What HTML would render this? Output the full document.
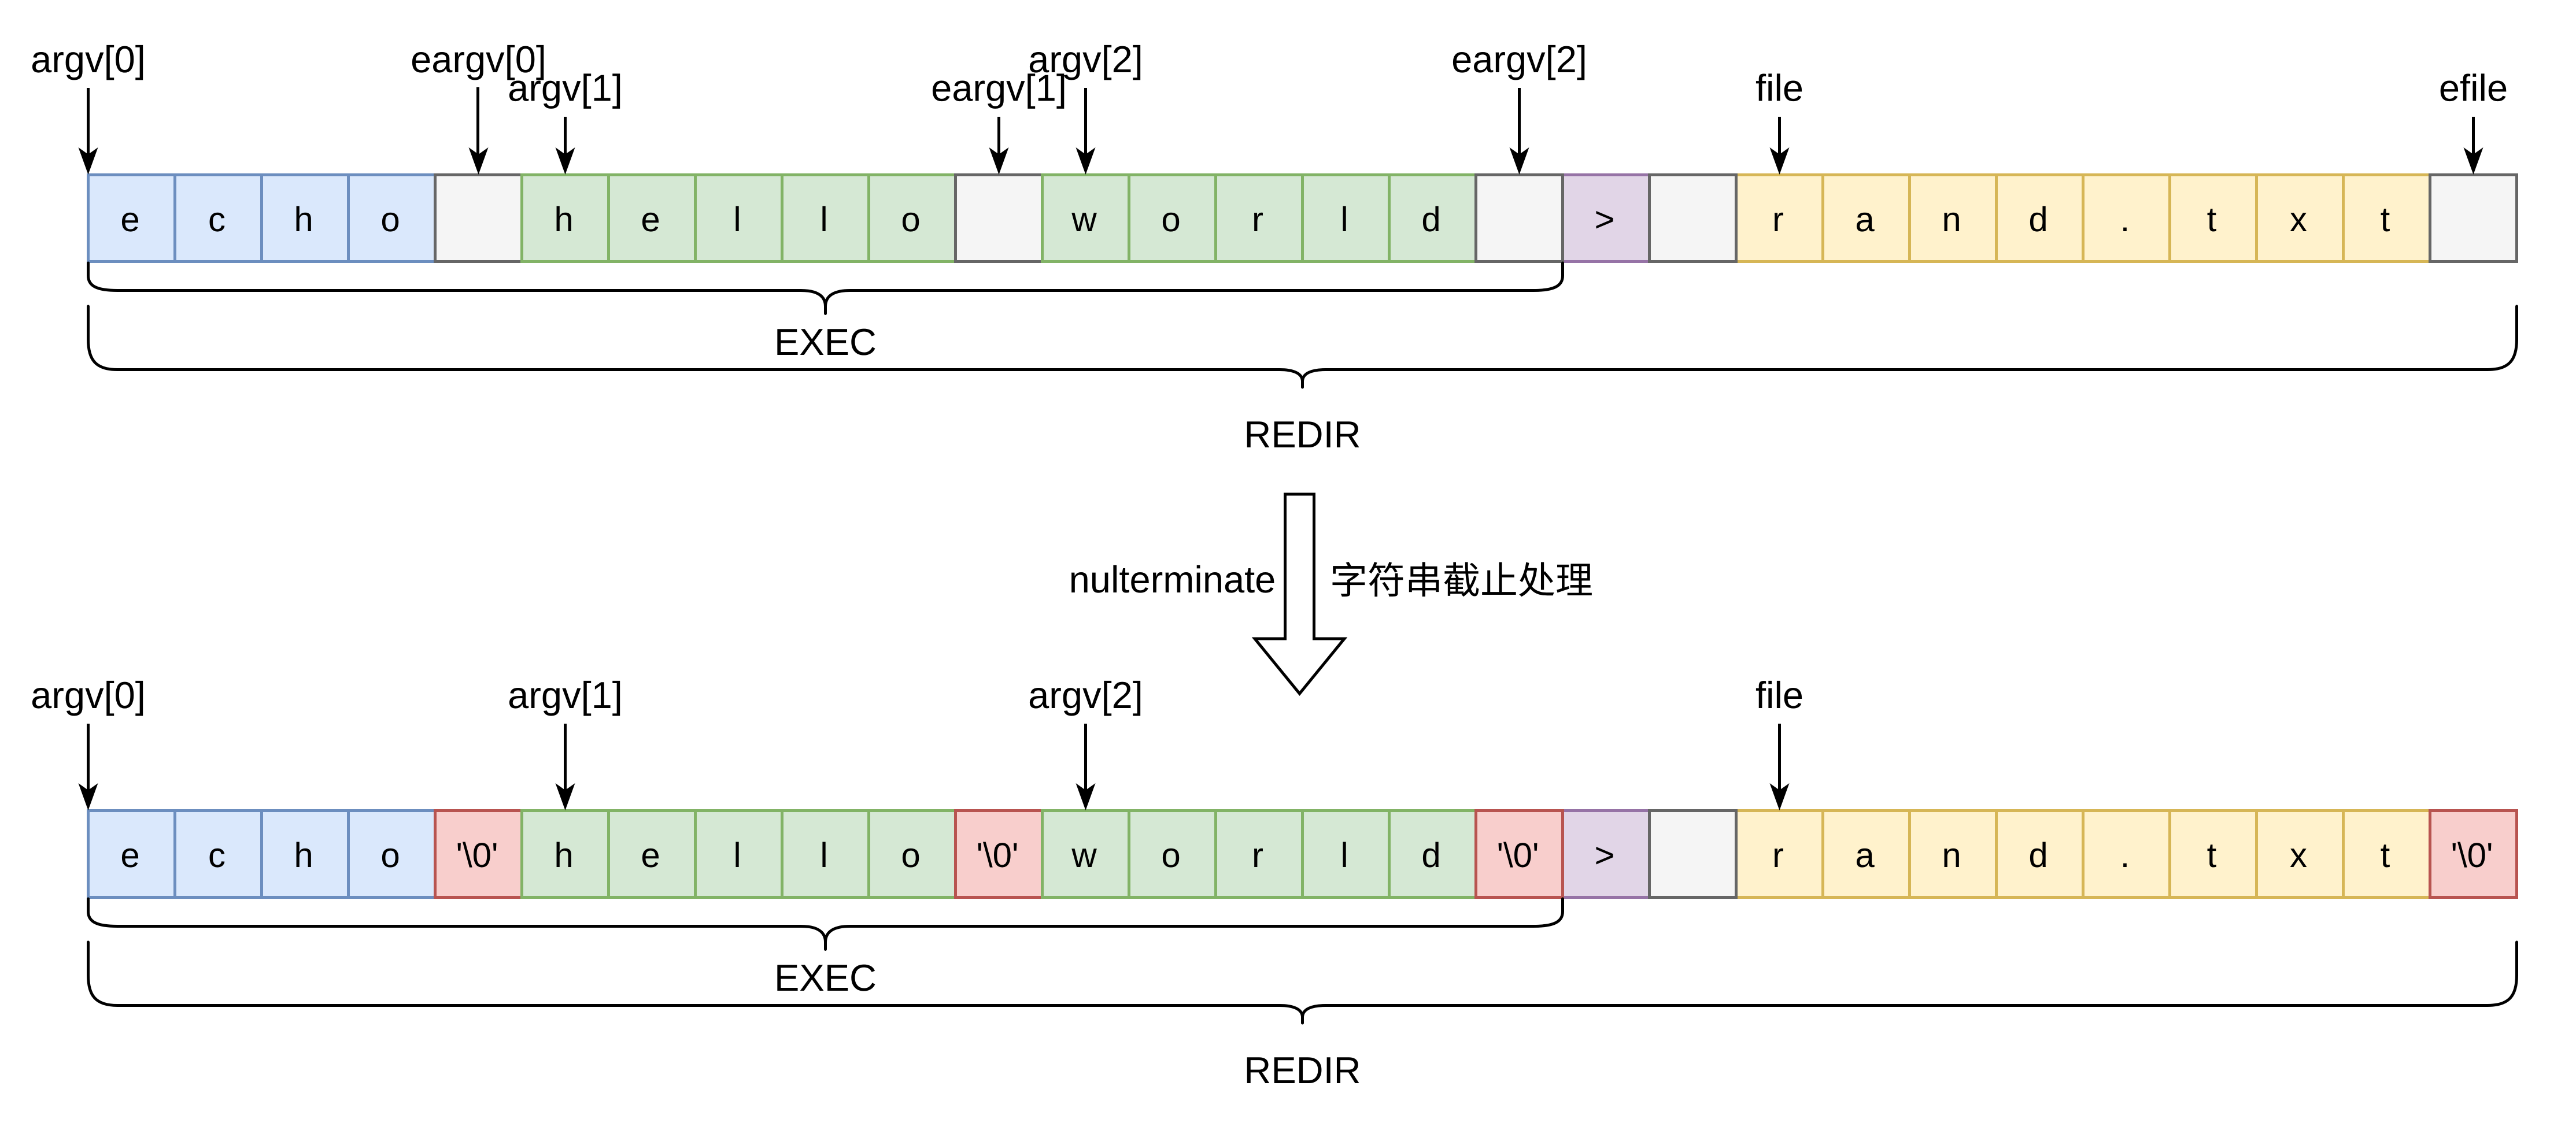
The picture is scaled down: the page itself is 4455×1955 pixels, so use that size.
<!DOCTYPE html>
<html>
<head>
<meta charset="utf-8">
<style>
html,body{margin:0;padding:0;background:#fff;width:4455px;height:1955px;overflow:hidden}
svg{display:block}
text{font-family:"Liberation Sans","Noto Sans CJK SC",sans-serif;fill:#000;text-anchor:middle;text-rendering:geometricPrecision}
.c{font-size:60px}
.l{font-size:65px}
rect{stroke-width:5}
.b{fill:#dae8fc;stroke:#6c8ebf}
.g{fill:#d5e8d4;stroke:#82b366}
.e{fill:#f5f5f5;stroke:#666666}
.p{fill:#e1d5e7;stroke:#9673a6}
.y{fill:#fff2cc;stroke:#d6b656}
.r{fill:#f8cecc;stroke:#b85450}
.ln{fill:none;stroke:#000;stroke-width:5}
.br{fill:none;stroke:#000;stroke-width:5;stroke-linecap:round}
</style>
</head>
<body>
<svg xmlns="http://www.w3.org/2000/svg" width="4455" height="1955" viewBox="0 0 4455 1955">
<rect x="0" y="0" width="4455" height="1955" fill="#fff" style="stroke:none"/>

<!-- Row 1 cells -->
<g>
<rect class="p" x="2702.5" y="302.5" width="150" height="150"/>
<rect class="y" x="3002.5" y="302.5" width="150" height="150"/>
<rect class="y" x="3152.5" y="302.5" width="150" height="150"/>
<rect class="y" x="3302.5" y="302.5" width="150" height="150"/>
<rect class="y" x="3452.5" y="302.5" width="150" height="150"/>
<rect class="y" x="3602.5" y="302.5" width="150" height="150"/>
<rect class="y" x="3752.5" y="302.5" width="150" height="150"/>
<rect class="y" x="3902.5" y="302.5" width="150" height="150"/>
<rect class="y" x="4052.5" y="302.5" width="150" height="150"/>
<rect class="b" x="152.5" y="302.5" width="150" height="150"/>
<rect class="b" x="302.5" y="302.5" width="150" height="150"/>
<rect class="b" x="452.5" y="302.5" width="150" height="150"/>
<rect class="b" x="602.5" y="302.5" width="150" height="150"/>
<rect class="e" x="752.5" y="302.5" width="150" height="150"/>
<rect class="g" x="902.5" y="302.5" width="150" height="150"/>
<rect class="g" x="1052.5" y="302.5" width="150" height="150"/>
<rect class="g" x="1202.5" y="302.5" width="150" height="150"/>
<rect class="g" x="1352.5" y="302.5" width="150" height="150"/>
<rect class="g" x="1502.5" y="302.5" width="150" height="150"/>
<rect class="e" x="1652.5" y="302.5" width="150" height="150"/>
<rect class="g" x="1802.5" y="302.5" width="150" height="150"/>
<rect class="g" x="1952.5" y="302.5" width="150" height="150"/>
<rect class="g" x="2102.5" y="302.5" width="150" height="150"/>
<rect class="g" x="2252.5" y="302.5" width="150" height="150"/>
<rect class="g" x="2402.5" y="302.5" width="150" height="150"/>
<rect class="e" x="2552.5" y="302.5" width="150" height="150"/>
<rect class="e" x="2852.5" y="302.5" width="150" height="150"/>
<rect class="e" x="4202.5" y="302.5" width="150" height="150"/>
</g>
<g class="c">
<text x="225" y="400">e</text><text x="375" y="400">c</text><text x="525" y="400">h</text><text x="675" y="400">o</text>
<text x="975" y="400">h</text><text x="1125" y="400">e</text><text x="1275" y="400">l</text><text x="1425" y="400">l</text><text x="1575" y="400">o</text>
<text x="1875" y="400">w</text><text x="2025" y="400">o</text><text x="2175" y="400">r</text><text x="2325" y="400">l</text><text x="2475" y="400">d</text>
<text x="2775" y="400">&gt;</text>
<text x="3075" y="400">r</text><text x="3225" y="400">a</text><text x="3375" y="400">n</text><text x="3525" y="400">d</text><text x="3675" y="400">.</text><text x="3825" y="400">t</text><text x="3975" y="400">x</text><text x="4125" y="400">t</text>
</g>

<!-- Row 1 arrows -->
<g>
<path class="ln" d="M152.5 152V270"/><path d="M152.5 302L135.5 255L152.5 267L169.5 255Z"/>
<path class="ln" d="M826.5 151V270"/><path d="M827.5 302L810.5 255L827.5 267L844.5 255Z"/>
<path class="ln" d="M977.5 202V270"/><path d="M977.5 302L960.5 255L977.5 267L994.5 255Z"/>
<path class="ln" d="M1727.5 202V270"/><path d="M1727.5 302L1710.5 255L1727.5 267L1744.5 255Z"/>
<path class="ln" d="M1877.5 152V270"/><path d="M1877.5 302L1860.5 255L1877.5 267L1894.5 255Z"/>
<path class="ln" d="M2627.5 152V270"/><path d="M2627.5 302L2610.5 255L2627.5 267L2644.5 255Z"/>
<path class="ln" d="M3077.5 202V270"/><path d="M3077.5 302L3060.5 255L3077.5 267L3094.5 255Z"/>
<path class="ln" d="M4277.5 202V270"/><path d="M4277.5 302L4260.5 255L4277.5 267L4294.5 255Z"/>
</g>
<g class="l">
<text x="152.5" y="125">argv[0]</text>
<text x="827.5" y="125">eargv[0]</text>
<text x="977.5" y="174.5">argv[1]</text>
<text x="1727.5" y="174.5">eargv[1]</text>
<text x="1877.5" y="125">argv[2]</text>
<text x="2627.5" y="125">eargv[2]</text>
<text x="3077.5" y="174.5">file</text>
<text x="4277.5" y="174.5">efile</text>
<text x="1427.5" y="614">EXEC</text>
<text x="2252.5" y="774">REDIR</text>
</g>

<!-- Row 1 braces -->
<path class="br" d="M152.5 455V477C152.5 495 168 502.5 203 502.5H1385C1410 502.5 1427.5 510 1427.5 530V542.5M1427.5 530C1427.5 510 1445 502.5 1470 502.5H2652C2687 502.5 2702.5 495 2702.5 477V455"/>
<path class="br" d="M152.5 530V587C152.5 622 165 639.5 203 639.5H2213C2235 639.5 2252.5 645 2252.5 660V670M2252.5 660C2252.5 645 2270 639.5 2292 639.5H4302C4340 639.5 4352.5 622 4352.5 587V530"/>

<!-- Block arrow -->
<path d="M2222.5 855H2272.5V1105H2325L2247.5 1200L2170 1105H2222.5Z" fill="#fff" stroke="#000" stroke-width="5"/>
<text class="l" x="2027.5" y="1025">nulterminate</text>
<text class="l" x="2527.5" y="1027">字符串截止处理</text>

<!-- Row 2 cells -->
<g>
<rect class="p" x="2702.5" y="1402.5" width="150" height="150"/>
<rect class="y" x="3002.5" y="1402.5" width="150" height="150"/>
<rect class="y" x="3152.5" y="1402.5" width="150" height="150"/>
<rect class="y" x="3302.5" y="1402.5" width="150" height="150"/>
<rect class="y" x="3452.5" y="1402.5" width="150" height="150"/>
<rect class="y" x="3602.5" y="1402.5" width="150" height="150"/>
<rect class="y" x="3752.5" y="1402.5" width="150" height="150"/>
<rect class="y" x="3902.5" y="1402.5" width="150" height="150"/>
<rect class="y" x="4052.5" y="1402.5" width="150" height="150"/>
<rect class="b" x="152.5" y="1402.5" width="150" height="150"/>
<rect class="b" x="302.5" y="1402.5" width="150" height="150"/>
<rect class="b" x="452.5" y="1402.5" width="150" height="150"/>
<rect class="b" x="602.5" y="1402.5" width="150" height="150"/>
<rect class="r" x="752.5" y="1402.5" width="150" height="150"/>
<rect class="g" x="902.5" y="1402.5" width="150" height="150"/>
<rect class="g" x="1052.5" y="1402.5" width="150" height="150"/>
<rect class="g" x="1202.5" y="1402.5" width="150" height="150"/>
<rect class="g" x="1352.5" y="1402.5" width="150" height="150"/>
<rect class="g" x="1502.5" y="1402.5" width="150" height="150"/>
<rect class="r" x="1652.5" y="1402.5" width="150" height="150"/>
<rect class="g" x="1802.5" y="1402.5" width="150" height="150"/>
<rect class="g" x="1952.5" y="1402.5" width="150" height="150"/>
<rect class="g" x="2102.5" y="1402.5" width="150" height="150"/>
<rect class="g" x="2252.5" y="1402.5" width="150" height="150"/>
<rect class="g" x="2402.5" y="1402.5" width="150" height="150"/>
<rect class="r" x="2552.5" y="1402.5" width="150" height="150"/>
<rect class="e" x="2852.5" y="1402.5" width="150" height="150"/>
<rect class="r" x="4202.5" y="1402.5" width="150" height="150"/>
</g>
<g class="c">
<text x="225" y="1500">e</text><text x="375" y="1500">c</text><text x="525" y="1500">h</text><text x="675" y="1500">o</text>
<text x="825" y="1500">'\0'</text>
<text x="975" y="1500">h</text><text x="1125" y="1500">e</text><text x="1275" y="1500">l</text><text x="1425" y="1500">l</text><text x="1575" y="1500">o</text>
<text x="1725" y="1500">'\0'</text>
<text x="1875" y="1500">w</text><text x="2025" y="1500">o</text><text x="2175" y="1500">r</text><text x="2325" y="1500">l</text><text x="2475" y="1500">d</text>
<text x="2625" y="1500">'\0'</text>
<text x="2775" y="1500">&gt;</text>
<text x="3075" y="1500">r</text><text x="3225" y="1500">a</text><text x="3375" y="1500">n</text><text x="3525" y="1500">d</text><text x="3675" y="1500">.</text><text x="3825" y="1500">t</text><text x="3975" y="1500">x</text><text x="4125" y="1500">t</text>
<text x="4275" y="1500">'\0'</text>
</g>

<!-- Row 2 arrows -->
<g>
<path class="ln" d="M152.5 1252V1370"/><path d="M152.5 1402L135.5 1355L152.5 1367L169.5 1355Z"/>
<path class="ln" d="M977.5 1252V1370"/><path d="M977.5 1402L960.5 1355L977.5 1367L994.5 1355Z"/>
<path class="ln" d="M1877.5 1252V1370"/><path d="M1877.5 1402L1860.5 1355L1877.5 1367L1894.5 1355Z"/>
<path class="ln" d="M3077.5 1252V1370"/><path d="M3077.5 1402L3060.5 1355L3077.5 1367L3094.5 1355Z"/>
</g>
<g class="l">
<text x="152.5" y="1225">argv[0]</text>
<text x="977.5" y="1225">argv[1]</text>
<text x="1877.5" y="1225">argv[2]</text>
<text x="3077.5" y="1225">file</text>
<text x="1427.5" y="1714">EXEC</text>
<text x="2252.5" y="1874">REDIR</text>
</g>

<!-- Row 2 braces -->
<path class="br" d="M152.5 1555V1577C152.5 1595 168 1602.5 203 1602.5H1385C1410 1602.5 1427.5 1610 1427.5 1630V1642.5M1427.5 1630C1427.5 1610 1445 1602.5 1470 1602.5H2652C2687 1602.5 2702.5 1595 2702.5 1577V1555"/>
<path class="br" d="M152.5 1630V1687C152.5 1722 165 1739.5 203 1739.5H2213C2235 1739.5 2252.5 1745 2252.5 1760V1770M2252.5 1760C2252.5 1745 2270 1739.5 2292 1739.5H4302C4340 1739.5 4352.5 1722 4352.5 1687V1630"/>
</svg>
</body>
</html>
